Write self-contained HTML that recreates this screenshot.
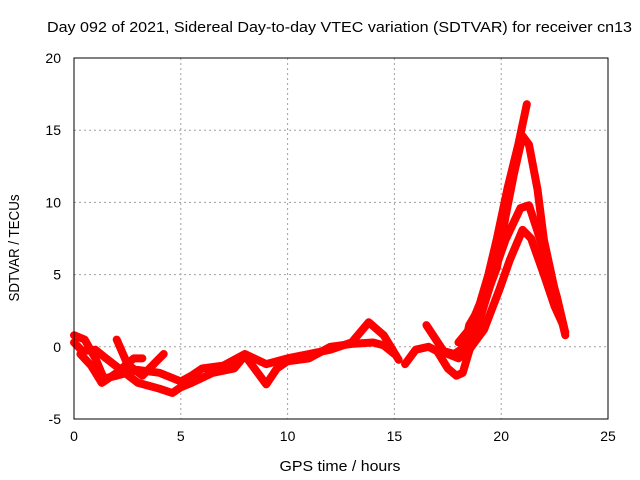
<!DOCTYPE html>
<html><head><meta charset="utf-8"><style>
body{margin:0;background:#fff;}
svg{display:block;font-family:"Liberation Sans",Arial,sans-serif;}
</style></head><body>
<svg id="chart" width="640" height="480">
<text x="339.5" y="32" font-size="15" text-anchor="middle" textLength="585" lengthAdjust="spacingAndGlyphs">Day 092 of 2021, Sidereal Day-to-day VTEC variation (SDTVAR) for receiver cn13</text>
<g id="grid"></g>
<g id="series"></g>
<rect x="74" y="58" width="534" height="361" fill="none" stroke="#000" stroke-width="1"/>
<g id="ticks"></g>
<text x="340" y="471" font-size="15" text-anchor="middle" textLength="121" lengthAdjust="spacingAndGlyphs">GPS time / hours</text>
<text transform="translate(19,248) rotate(-90)" font-size="15" text-anchor="middle" textLength="107" lengthAdjust="spacingAndGlyphs">SDTVAR / TECUs</text>
</svg>
<script>
const xTicks=[0,5,10,15,20,25];
const yTicks=[-5,0,5,10,15,20];
const trace1=[[0,0.8],[0.5,0.5],[1,-0.8],[1.4,-2.2],[2,-2.0],[3,-1.6],[4,-1.8],[5,-2.4],[5.5,-2.0],[6,-1.5],[7,-1.3],[8,-0.5],[9,-1.2],[10,-0.8],[11,-0.5],[12,-0.2],[13,0.3],[13.8,1.7],[14.5,0.8],[15.2,-0.9]];
const trace2=[[0,0.3],[0.4,-0.3],[1,-0.2],[1.5,-0.8],[2.2,-1.6],[3,-2.5],[3.5,-2.7],[4,-2.9],[4.6,-3.2],[5,-2.8],[5.5,-2.5],[6.5,-1.8],[7.5,-1.5],[8,-0.6],[9,-2.6],[9.5,-1.5],[10,-1.0],[11,-0.8],[12,0],[13,0.2],[14,0.3],[14.5,0.1],[15,-0.5]];
const trace3=[[2,0.5],[2.5,-1.2],[3.2,-2.0],[4,-0.8],[4.2,-0.5]];
const trace4=[[0.3,-0.5],[0.8,-1.3],[1.3,-2.5],[2.0,-1.8],[2.8,-0.8],[3.2,-0.8]];
const trace5=[[15.5,-1.2],[16,-0.2],[16.6,0],[17,-0.3],[17.5,-1.5],[17.9,-2.0],[18.2,-1.8],[18.5,-0.3],[19,1.9],[19.7,5.3],[20.2,7.4],[20.9,9.6],[21.3,9.8],[21.7,8],[22.2,5.5],[22.6,3.5],[23,1.0]];
const trace6=[[16.5,1.5],[17.3,-0.3],[17.8,-0.5],[18.3,0],[18.5,1.5],[19.3,3.5],[19.8,5.5],[20.2,9],[20.6,12],[21.0,14.6],[21.3,14.0],[21.7,10.9],[22.0,7.4],[22.6,3.3],[23,0.8]];
const trace7=[[21.2,16.8],[20.8,14],[20.3,11],[19.8,7.5],[19.4,5],[19,3],[18.5,1.2],[18,0.3]];
const trace8=[[17.5,-0.5],[18,-0.8],[18.5,-0.2],[19.2,1.2],[19.9,3.9],[20.4,6],[21.0,8.1],[21.4,7.5],[22,5],[22.5,2.8],[22.9,1.5]];
const traces=[trace1,trace2,trace3,trace4,trace5,trace6,trace7,trace8];
const X0=74,X1=608,Y0=419,Y1=58;
const sx=h=>X0+(h-0)/(25-0)*(X1-X0);
const sy=v=>Y0-(v+5)/25*(Y0-Y1);
const NS="http://www.w3.org/2000/svg";
const grid=document.getElementById('grid'),ticks=document.getElementById('ticks'),ser=document.getElementById('series');
xTicks.forEach(t=>{
  const x=sx(t);
  if(t>0&&t<25){const l=document.createElementNS(NS,'line');
  l.setAttribute('x1',x);l.setAttribute('x2',x);l.setAttribute('y1',Y1);l.setAttribute('y2',Y0);
  l.setAttribute('stroke','#a0a0a0');l.setAttribute('stroke-dasharray','2,3');
  
  
  grid.appendChild(l);}
  const tx=document.createElementNS(NS,'text');
  tx.setAttribute('x',x);tx.setAttribute('y',Y0+22);tx.setAttribute('font-size','14');tx.setAttribute('text-anchor','middle');
  tx.textContent=t;
  
  
  ticks.appendChild(tx);
});
yTicks.forEach(t=>{
  const y=sy(t);
  if(t>-5&&t<20){const l=document.createElementNS(NS,'line');
  l.setAttribute('x1',X0);l.setAttribute('x2',X1);l.setAttribute('y1',y);l.setAttribute('y2',y);
  l.setAttribute('stroke','#a0a0a0');l.setAttribute('stroke-dasharray','2,3');
  
  
  grid.appendChild(l);}
  const tx=document.createElementNS(NS,'text');
  tx.setAttribute('x',X0-13);tx.setAttribute('y',y+5);tx.setAttribute('font-size','14');tx.setAttribute('text-anchor','end');
  tx.textContent=t;
  
  
  ticks.appendChild(tx);
});
traces.forEach(tr=>{
  const p=document.createElementNS(NS,'polyline');
  p.setAttribute('points',tr.map(d=>sx(d[0])+','+sy(d[1])).join(' '));
  p.setAttribute('fill','none');p.setAttribute('stroke','#ff0000');p.setAttribute('stroke-width','8');
  p.setAttribute('stroke-linejoin','round');p.setAttribute('stroke-linecap','round');
  
  
  ser.appendChild(p);
});
</script>
</body></html>
